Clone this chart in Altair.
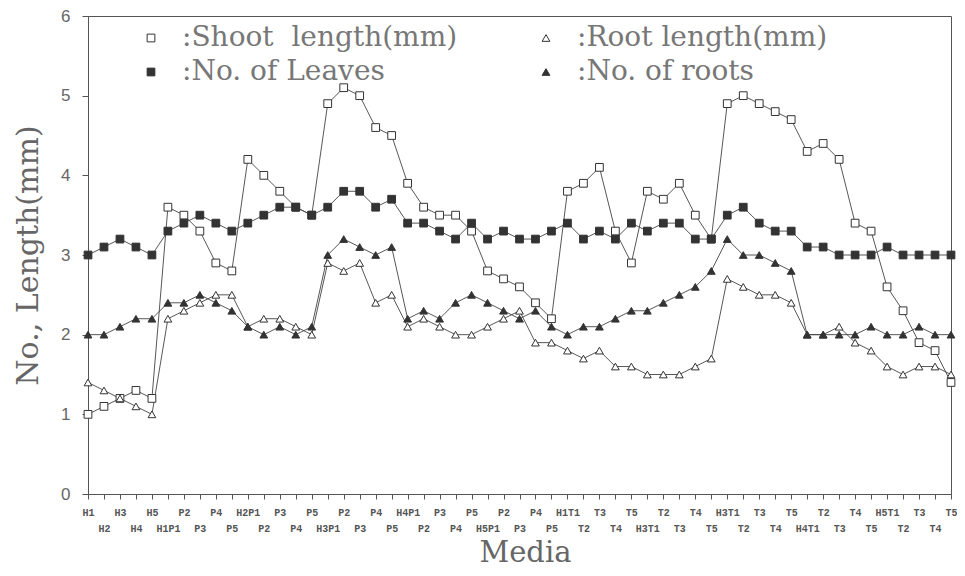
import altair as alt
import pandas as pd

media = ["H1","H2","H3","H4","H5",
         "H1P1","P2","P3","P4","P5",
         "H2P1","P2","P3","P4","P5",
         "H3P1","P2","P3","P4","P5",
         "H4P1","P2","P3","P4","P5",
         "H5P1","P2","P3","P4","P5",
         "H1T1","T2","T3","T4","T5",
         "H3T1","T2","T3","T4","T5",
         "H3T1","T2","T3","T4","T5",
         "H4T1","T2","T3","T4","T5",
         "H5T1","T2","T3","T4","T5"]

shoot_length = [1.0,1.1,1.2,1.3,1.2, 3.6,3.5,3.3,2.9,2.8, 4.2,4.0,3.8,3.6,3.5,
                4.9,5.1,5.0,4.6,4.5, 3.9,3.6,3.5,3.5,3.3, 2.8,2.7,2.6,2.4,2.2,
                3.8,3.9,4.1,3.3,2.9, 3.8,3.7,3.9,3.5,3.2, 4.9,5.0,4.9,4.8,4.7,
                4.3,4.4,4.2,3.4,3.3, 2.6,2.3,1.9,1.8,1.4]
root_length = [1.4,1.3,1.2,1.1,1.0, 2.2,2.3,2.4,2.5,2.5, 2.1,2.2,2.2,2.1,2.0,
               2.9,2.8,2.9,2.4,2.5, 2.1,2.2,2.1,2.0,2.0, 2.1,2.2,2.3,1.9,1.9,
               1.8,1.7,1.8,1.6,1.6, 1.5,1.5,1.5,1.6,1.7, 2.7,2.6,2.5,2.5,2.4,
               2.0,2.0,2.1,1.9,1.8, 1.6,1.5,1.6,1.6,1.5]
no_leaves = [3.0,3.1,3.2,3.1,3.0, 3.3,3.4,3.5,3.4,3.3, 3.4,3.5,3.6,3.6,3.5,
             3.6,3.8,3.8,3.6,3.7, 3.4,3.4,3.3,3.2,3.4, 3.2,3.3,3.2,3.2,3.3,
             3.4,3.2,3.3,3.2,3.4, 3.3,3.4,3.4,3.2,3.2, 3.5,3.6,3.4,3.3,3.3,
             3.1,3.1,3.0,3.0,3.0, 3.1,3.0,3.0,3.0,3.0]
no_roots = [2.0,2.0,2.1,2.2,2.2, 2.4,2.4,2.5,2.4,2.3, 2.1,2.0,2.1,2.0,2.1,
            3.0,3.2,3.1,3.0,3.1, 2.2,2.3,2.2,2.4,2.5, 2.4,2.3,2.2,2.3,2.1,
            2.0,2.1,2.1,2.2,2.3, 2.3,2.4,2.5,2.6,2.8, 3.2,3.0,3.0,2.9,2.8,
            2.0,2.0,2.0,2.0,2.1, 2.0,2.0,2.1,2.0,2.0]

# legend order (column-major fill): Shoot, Leaves | Root, roots
series_names = [":Shoot\u00a0\u00a0length(mm)", ":No. of Leaves", ":Root length(mm)", ":No. of roots"]
series_values = [shoot_length, no_leaves, root_length, no_roots]
series_shapes = ["square", "square", "triangle-up", "triangle-up"]
series_fills = ["#ffffff", "#333333", "#ffffff", "#333333"]
y_ticks = [0, 1, 2, 3, 4, 5, 6]

rows = []
for name, vals in zip(series_names, series_values):
    for i, v in enumerate(vals):
        rows.append({"idx": i, "value": v, "series": name})
df = pd.DataFrame(rows)

L = "[" + ",".join("'" + m + "'" for m in media) + "]"
label_expr = f"datum.value % 2 == 0 ? {L}[datum.value] : [' ', {L}[datum.value]]"

x = alt.X("idx:Q",
          scale=alt.Scale(domain=[0, len(media) - 1], nice=False, zero=False),
          axis=alt.Axis(values=list(range(len(media))), labelExpr=label_expr,
                        labelOverlap=False, labelFlush=False,
                        labelFont="Liberation Mono", labelFontSize=10, labelFontWeight="bold",
                        labelColor="#555", labelLineHeight=16, labelPadding=8,
                        tickSize=5, tickColor="#555", domainColor="#555", grid=False,
                        title="Media", titleFont="DejaVu Serif", titleFontSize=29,
                        titleFontWeight="normal", titleColor="#666",
                        titleX=437, titleY=58, titleBaseline="middle", titleAlign="center"))
y = alt.Y("value:Q",
          scale=alt.Scale(domain=[0, 6], nice=False),
          axis=alt.Axis(values=y_ticks, tickSize=6, tickColor="#555", domainColor="#555",
                        labelFont="Liberation Sans", labelFontSize=17, labelColor="#666",
                        labelPadding=12, grid=False,
                        title="No., Length(mm)", titleFont="DejaVu Serif", titleFontSize=30,
                        titleFontWeight="normal", titleColor="#666",
                        titleX=-60, titleY=239, titleBaseline="middle", titleAlign="center"))

leg = alt.Legend(title=None, orient="none", legendX=49, legendY=8, columns=2,
                 labelFont="DejaVu Serif", labelFontSize=28, labelColor="#777",
                 labelLimit=500, symbolSize=60, symbolStrokeColor="#333",
                 symbolStrokeWidth=1, labelOffset=17, columnPadding=74, rowPadding=6)

shape_scale = alt.Scale(domain=series_names, range=series_shapes)
fill_scale = alt.Scale(domain=series_names, range=series_fills)
stroke_scale = alt.Scale(domain=series_names, range=["#333333"] * 4)

base = alt.Chart(df)
lines = base.mark_line(color="#444", strokeWidth=0.9).encode(x=x, y=y, detail="series:N")
points = base.mark_point(filled=True, strokeWidth=1, size=60, opacity=1).encode(
    x=x, y=y,
    shape=alt.Shape("series:N", scale=shape_scale, legend=leg),
    fill=alt.Fill("series:N", scale=fill_scale, legend=leg),
    stroke=alt.Stroke("series:N", scale=stroke_scale, legend=leg),
)

chart = alt.layer(lines, points).properties(
    width=863, height=478,
    autosize=alt.AutoSizeParams(type="none"),
    padding={"left": 80, "top": 8, "right": 6, "bottom": 74},
).configure_view(stroke="#555", strokeWidth=1)

chart.save("out.html", embed_options={"renderer": "svg", "actions": False})
